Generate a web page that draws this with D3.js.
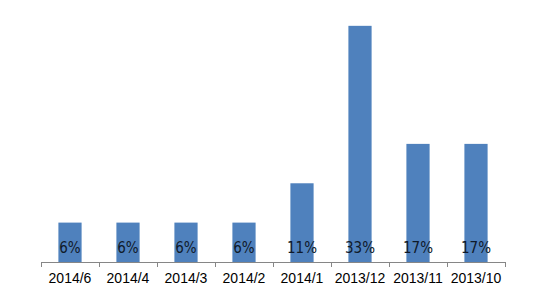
<!DOCTYPE html>
<html>
<head>
<meta charset="utf-8">
<script src="https://cdn.jsdelivr.net/npm/d3@7"></script>
<style>
  body { margin: 0; background: #fff; }
  .axis path, .axis line { stroke: #868686; }
</style>
</head>
<body>
<svg id="visualization" width="550" height="308"></svg>
<script>
var categories = ["2014/6", "2014/4", "2014/3", "2014/2", "2014/1", "2013/12", "2013/11", "2013/10"];
var shares = [5.56, 5.56, 5.56, 5.56, 11.11, 33.33, 16.67, 16.67];

var vis = d3.select("#visualization"),
  MARGINS = { top: 14, right: 45, bottom: 46, left: 41 },
  WIDTH = 550,
  HEIGHT = 308,
  xScale = d3.scaleBand()
    .domain(categories)
    .range([MARGINS.left, WIDTH - MARGINS.right])
    .paddingInner(0.6)
    .paddingOuter(0.3),
  yScale = d3.scaleLinear()
    .domain([0, 35])
    .range([HEIGHT - MARGINS.bottom, MARGINS.top]);

var data = categories.map(function (c, i) {
  return { cat: c, value: shares[i] };
});

vis.selectAll("rect.bar")
  .data(data)
  .enter().append("rect")
  .attr("class", "bar")
  .attr("x", function (d) { return xScale(d.cat); })
  .attr("width", xScale.bandwidth())
  .attr("y", function (d) { return yScale(d.value); })
  .attr("height", function (d) { return yScale(0) - yScale(d.value); })
  .style("fill", "#4f81bd");

// axis with ticks on the band edges, like the original
var axisG = vis.append("g")
  .attr("class", "axis")
  .attr("transform", "translate(0," + yScale(0) + ")");

axisG.append("line")
  .attr("x1", MARGINS.left)
  .attr("x2", WIDTH - MARGINS.right)
  .attr("y1", 0.5).attr("y2", 0.5);

var step = xScale.step();
var edges = d3.range(categories.length + 1).map(function (i) {
  return MARGINS.left + i * step;
});
axisG.selectAll("line.tick")
  .data(edges)
  .enter().append("line")
  .attr("class", "tick")
  .attr("x1", function (d) { return Math.round(d) + 0.5; })
  .attr("x2", function (d) { return Math.round(d) + 0.5; })
  .attr("y1", 0).attr("y2", 5);

vis.selectAll("text.cat")
  .data(data)
  .enter().append("text")
  .attr("class", "cat")
  .attr("x", function (d) { return xScale(d.cat) + xScale.bandwidth() / 2; })
  .attr("y", yScale(0) + 21)
  .style("text-anchor", "middle")
  .style("font-family", "Liberation Sans, Arial, sans-serif")
  .style("font-size", "14px")
  .style("fill", "#000")
  .text(function (d) { return d.cat; });

vis.selectAll("text.val")
  .data(data)
  .enter().append("text")
  .attr("class", "val")
  .attr("x", function (d) { return xScale(d.cat) + xScale.bandwidth() / 2; })
  .attr("y", yScale(0) - 9)
  .style("text-anchor", "middle")
  .style("font-family", "DejaVu Sans Condensed, sans-serif")
  .style("font-stretch", "condensed")
  .style("font-size", "15px")
  .style("fill", "#0f1a2a")
  .text(function (d) { return Math.round(d.value) + "%"; });
</script>
</body>
</html>
